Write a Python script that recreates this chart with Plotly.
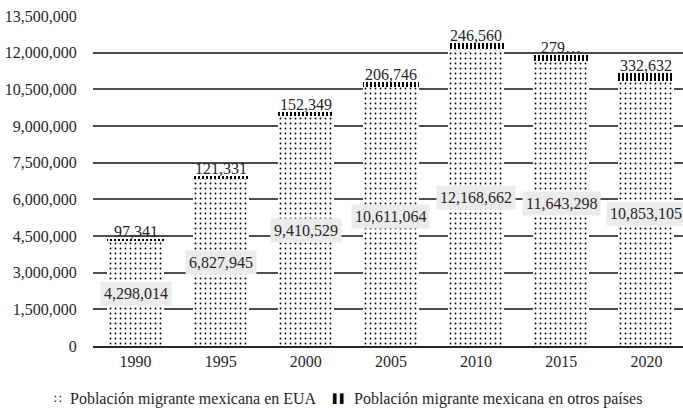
import plotly.graph_objects as go

# Mexican migrant population by year
years = ["1990", "1995", "2000", "2005", "2010", "2015", "2020"]
eua = [4298014, 6827945, 9410529, 10611064, 12168662, 11643298, 10853105]
otros = [97341, 121331, 152349, 206746, 246560, 279000, 332632]
# labels printed above each stack (the 2015 one is shown truncated)
otros_labels = ["97,341", "121,331", "152,349", "206,746", "246,560", "279\u2026", "332,632"]
y_ticks = [0, 1500000, 3000000, 4500000, 6000000, 7500000, 9000000,
           10500000, 12000000, 13500000]
series_names = ["Población migrante mexicana en EUA",
                "Población migrante mexicana en otros países"]

FONT = "Liberation Serif, Times New Roman, serif"
TXT = "#262626"

# plot-area geometry in pixels (used to place the hand-made legend)
W, H = 683, 410
ML, MR, MT, MB = 93, 0, 16, 64
PW, PH = W - ML - MR, H - MT - MB
X_RANGE = [-0.5, 6.43]


def px_to_paper(px, py):
    return (px - ML) / PW, (H - MB - py) / PH


def cat_to_paper(i):
    # category index -> fraction of the plot width
    return (i - X_RANGE[0]) / (X_RANGE[1] - X_RANGE[0])


fig = go.Figure()
fig.add_trace(go.Bar(
    x=years, y=eua, name=series_names[0],
    marker=dict(color="white", line=dict(width=0),
                pattern=dict(shape=".", fgcolor="black", bgcolor="white",
                             fillmode="replace", size=5, solidity=0.11)),
))
fig.add_trace(go.Bar(
    x=years, y=otros, name=series_names[1],
    marker=dict(color="white", line=dict(width=0),
                pattern=dict(shape="|", fgcolor="black", bgcolor="white",
                             fillmode="replace", size=4, solidity=0.5)),
))

annotations = []
# value boxes at the middle of the EUA segment
for i, v in enumerate(eua):
    annotations.append(dict(
        x=cat_to_paper(i), y=v / 2, xref="paper", yref="y",
        xanchor="center", yanchor="middle",
        text=f"{v:,}", showarrow=False,
        bgcolor="#ebebeb", borderpad=3,
        font=dict(family=FONT, size=16, color=TXT),
    ))
# labels sitting on top of each stack
for i, (v, o, lab) in enumerate(zip(eua, otros, otros_labels)):
    annotations.append(dict(
        x=cat_to_paper(i), y=v + o, xref="paper", yref="y",
        xanchor="center", yanchor="bottom", yshift=-3,
        text=lab, showarrow=False,
        font=dict(family=FONT, size=16, color=TXT),
    ))

# legend row below the axis: small glyph + series name
legend_items = [("\u2237", 64, 68, series_names[0]),
                ("\u258c\u258c", 349, 352, series_names[1])]
for glyph, gx, tx, name in legend_items:
    sx, sy = px_to_paper(gx, 399)
    annotations.append(dict(
        x=sx, y=sy, xref="paper", yref="paper", text=glyph, showarrow=False,
        xanchor="right", yanchor="middle",
        font=dict(family="DejaVu Sans", size=9 if len(glyph) > 1 else 12,
                  color="black"),
    ))
    lx, ly = px_to_paper(tx, 399)
    annotations.append(dict(
        x=lx, y=ly, xref="paper", yref="paper", text=name, showarrow=False,
        xanchor="left", yanchor="middle",
        font=dict(family=FONT, size=16, color=TXT),
    ))

fig.update_layout(
    width=W, height=H,
    margin=dict(l=ML, r=MR, t=MT, b=MB),
    barmode="stack", bargap=0.34,
    plot_bgcolor="white", paper_bgcolor="white",
    font=dict(family=FONT, size=16, color=TXT),
    annotations=annotations,
    showlegend=False,
    xaxis=dict(type="category", range=X_RANGE, showgrid=False,
               ticks="", showline=True, linecolor=TXT, linewidth=2),
    yaxis=dict(range=[0, 13500000], tickvals=y_ticks,
               ticktext=[f"{t:,}" for t in y_ticks],
               showgrid=True, gridcolor="#4d4d4d", gridwidth=1.5,
               zeroline=False, showline=False,
               ticks="outside", ticklen=12, tickcolor="rgba(0,0,0,0)"),
)

fig.write_html("out.html")
